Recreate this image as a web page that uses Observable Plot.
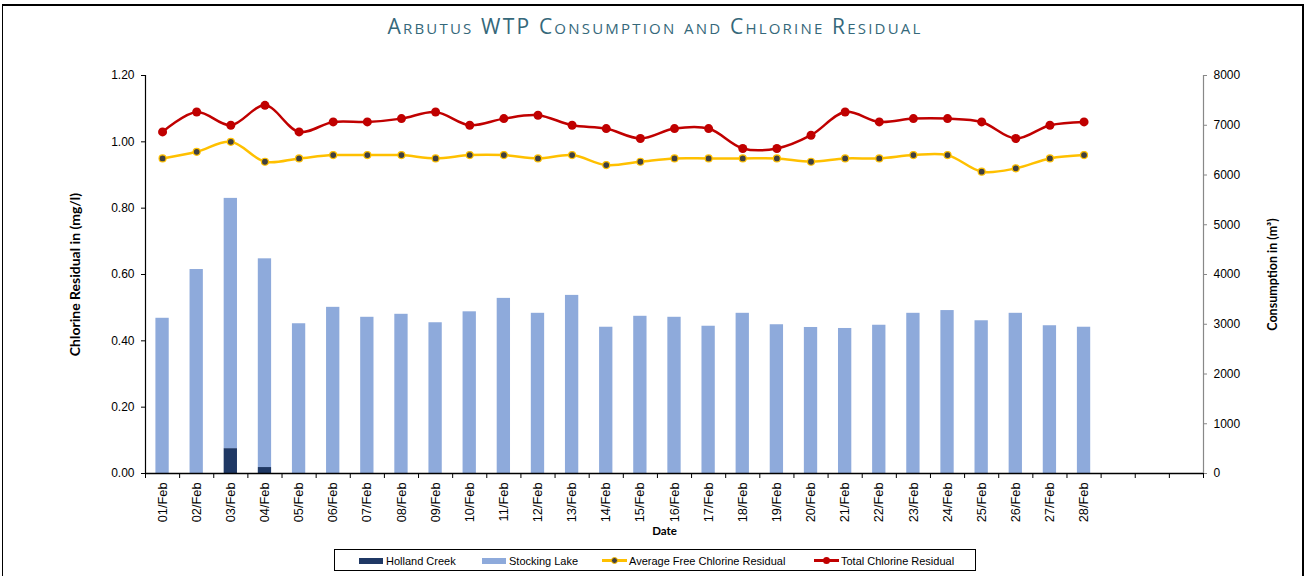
<!DOCTYPE html>
<html>
<head>
<meta charset="utf-8">
<script src="https://cdn.jsdelivr.net/npm/d3@7"></script>
<script src="https://cdn.jsdelivr.net/npm/@observablehq/plot@0.6"></script>
<style>
  html, body { margin: 0; padding: 0; background: #fff; }
  #wrap { position: relative; width: 1310px; height: 576px; overflow: hidden; background: #fff; }
  #frame { position: absolute; left: 2px; top: 4px; width: 1302px; height: 600px;
           border-top: 2px solid #000; border-left: 1.5px solid #000; border-right: 2.5px solid #000; box-sizing: border-box; }
  #title { position: absolute; left: 0; width: 1310px; top: 12px; text-align: center;
           font-family: "Open Sans", Lato, sans-serif; font-variant: small-caps; font-size: 21px;
           color: #35687A; letter-spacing: 2.2px; }
  #chart { position: absolute; left: 0; top: 0; }
  #legend { position: absolute; left: 334px; top: 549px; width: 642px; height: 22px;
            border: 1px solid #000; box-sizing: border-box; font-family: "Liberation Sans", Arial, sans-serif;
            font-size: 11px; color: #000; background: #fff; }
  .li { position: absolute; top: 4px; display: flex; align-items: center; height: 13px; white-space: nowrap; }
  .sw { display: inline-block; width: 24px; height: 6px; margin-right: 3px; }
  .ln { position: relative; display: inline-block; width: 25px; height: 13px; margin-right: 2px; }
  .ln .bar { position: absolute; left: 0; right: 0; top: 5px; height: 3px; }
  .ln .pt { position: absolute; left: 9px; top: 3px; width: 7px; height: 7px; border-radius: 50%; box-sizing: border-box; }
</style>
</head>
<body>
<div id="wrap">
  <div id="chart"></div>
  <div id="frame"></div>
  <div id="title">Arbutus WTP Consumption and Chlorine Residual</div>
  <div id="legend"></div>
</div>
<script>
// ---- data ----
const days = ["01/Feb","02/Feb","03/Feb","04/Feb","05/Feb","06/Feb","07/Feb","08/Feb","09/Feb","10/Feb",
  "11/Feb","12/Feb","13/Feb","14/Feb","15/Feb","16/Feb","17/Feb","18/Feb","19/Feb","20/Feb",
  "21/Feb","22/Feb","23/Feb","24/Feb","25/Feb","26/Feb","27/Feb","28/Feb"];
const hollandCreek = [0,0,500,120,0,0,0,0,0,0,0,0,0,0,0,0,0,0,0,0,0,0,0,0,0,0,0,0];
const stockingLake = [3120,4100,5030,4195,3010,3340,3140,3200,3030,3250,3520,3220,3580,2940,
  3160,3140,2960,3220,2990,2935,2915,2980,3220,3275,3070,3220,2970,2940];
const avgFreeChlorine = [0.95,0.97,1.00,0.94,0.95,0.96,0.96,0.96,0.95,0.96,0.96,0.95,0.96,0.93,
  0.94,0.95,0.95,0.95,0.95,0.94,0.95,0.95,0.96,0.96,0.91,0.92,0.95,0.96];
const totalChlorine = [1.03,1.09,1.05,1.11,1.03,1.06,1.06,1.07,1.09,1.05,1.07,1.08,1.05,1.04,
  1.01,1.04,1.04,0.98,0.98,1.02,1.09,1.06,1.07,1.07,1.06,1.01,1.05,1.06];
const chlorineTicks = [0, 0.2, 0.4, 0.6, 0.8, 1.0, 1.2];
const consumptionTicks = [0,1000,2000,3000,4000,5000,6000,7000,8000];
const sources = ["Holland Creek", "Stocking Lake"];
const seriesNames = ["Average Free Chlorine Residual", "Total Chlorine Residual"];
const slotCount = 31; // Feb days plus three empty slots (month axis)

// ---- derived tables ----
const yMax = chlorineTicks[chlorineTicks.length - 1];
const cMax = consumptionTicks[consumptionTicks.length - 1];
const k = yMax / cMax; // consumption -> chlorine axis units
const barData = [];
days.forEach((d, i) => {
  barData.push({i, source: sources[0], value: hollandCreek[i]});
  barData.push({i, source: sources[1], value: stockingLake[i]});
});
const lineData = days.map((d, i) => ({i, avg: avgFreeChlorine[i], total: totalChlorine[i]}));
const halfBar = 0.195;

const colors = {holland: "#1F3864", stocking: "#8EAADB", avg: "#FFC000", avgDot: "#404040", total: "#C00000"};
const titleFont = "Lato, 'Open Sans', sans-serif";

const chart = Plot.plot({
  width: 1310, height: 576,
  marginLeft: 145, marginRight: 107, marginTop: 75, marginBottom: 103,
  style: {fontFamily: "'Liberation Sans', Arial, sans-serif", fontSize: "12px", color: "#000", background: "transparent"},
  x: {type: "linear", domain: [0, slotCount]},
  y: {domain: [0, yMax]},
  color: {domain: sources, range: [colors.holland, colors.stocking]},
  marks: [
    Plot.rectY(barData, {x1: d => d.i + 0.5 - halfBar, x2: d => d.i + 0.5 + halfBar, y: d => d.value * k, fill: "source"}),
    Plot.ruleX([0], {stroke: "#000", strokeWidth: 1.2}),
    Plot.ruleX([slotCount], {stroke: "#888", strokeWidth: 1.2}),
    Plot.ruleY([0], {stroke: "#000", strokeWidth: 1.5}),
    Plot.axisY({anchor: "left", ticks: chlorineTicks, tickFormat: d3.format(".2f"), tickSize: 4, tickPadding: 7, label: null}),
    Plot.axisY({anchor: "right", ticks: consumptionTicks.map(v => v * k), tickFormat: v => String(Math.round(v / k)),
      tickSize: 3, tickPadding: 7, stroke: "#888", label: null}),
    Plot.axisX({ticks: d3.range(slotCount + 1), tickSize: 5, tickFormat: () => "", label: null}),
    Plot.axisX({ticks: days.map((d, i) => i + 0.5), tickFormat: v => days[Math.round(v - 0.5)], tickRotate: -90,
      tickSize: 0, tickPadding: 9, fontSize: 12.8, label: null}),
    Plot.line(lineData, {x: d => d.i + 0.5, y: "avg", curve: "catmull-rom", stroke: colors.avg, strokeWidth: 2.5}),
    Plot.dot(lineData, {x: d => d.i + 0.5, y: "avg", r: 3.5, fill: colors.avgDot, stroke: colors.avg, strokeWidth: 1.2}),
    Plot.line(lineData, {x: d => d.i + 0.5, y: "total", curve: "catmull-rom", stroke: colors.total, strokeWidth: 2.5}),
    Plot.dot(lineData, {x: d => d.i + 0.5, y: "total", r: 4.5, fill: colors.total}),
    Plot.text(["Chlorine Residual in (mg/l)"], {text: d => d, frameAnchor: "left", textAnchor: "middle", dx: -70, rotate: -90,
      fontWeight: "bold", fontSize: 14, fontFamily: titleFont}),
    Plot.text(["Consumption in (m³)"], {text: d => d, frameAnchor: "right", textAnchor: "middle", dx: 69, rotate: -90,
      fontWeight: "bold", fontSize: 12.5, fontFamily: titleFont}),
    Plot.text(["Date"], {text: d => d, frameAnchor: "bottom", dx: -10, dy: 61,
      fontWeight: "bold", fontSize: 11.5, fontFamily: titleFont})
  ]
});
document.getElementById("chart").appendChild(chart);

// ---- legend ----
const legend = document.getElementById("legend");
const items = [
  {left: 24, html: `<span class="sw" style="background:${colors.holland}"></span>${sources[0]}`},
  {left: 147, html: `<span class="sw" style="background:${colors.stocking}"></span>${sources[1]}`},
  {left: 267, html: `<span class="ln"><span class="bar" style="background:${colors.avg}"></span><span class="pt" style="background:${colors.avgDot};border:1.5px solid ${colors.avg}"></span></span>${seriesNames[0]}`},
  {left: 479, html: `<span class="ln"><span class="bar" style="background:${colors.total}"></span><span class="pt" style="background:${colors.total}"></span></span>${seriesNames[1]}`}
];
items.forEach(it => {
  const el = document.createElement("div");
  el.className = "li";
  el.style.left = it.left + "px";
  el.innerHTML = it.html;
  legend.appendChild(el);
});
</script>
</body>
</html>
